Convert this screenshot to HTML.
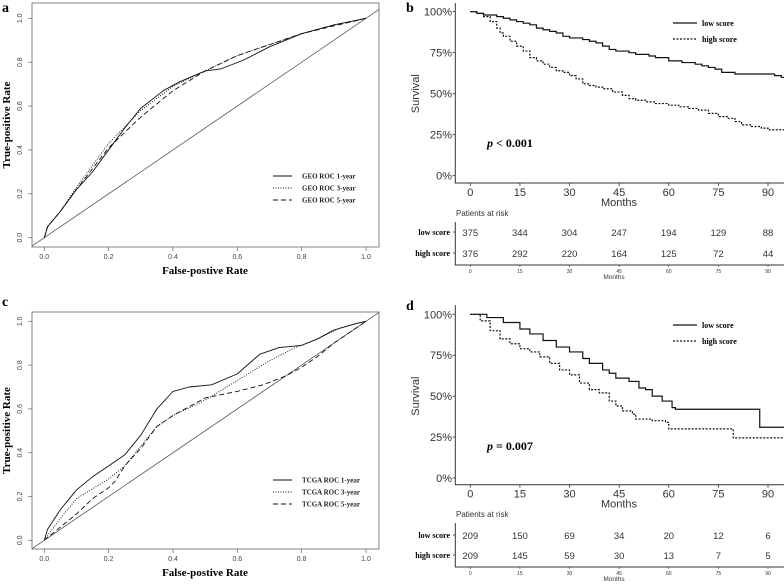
<!DOCTYPE html>
<html><head><meta charset="utf-8"><style>
body{margin:0;background:#fff}
svg{display:block}
.ser{font-family:"Liberation Serif",serif}
.san{font-family:"Liberation Sans",sans-serif}
</style></head><body>
<svg id="fig" width="784" height="584" viewBox="0 0 784 584" xmlns="http://www.w3.org/2000/svg">
<text x="2" y="12" class="ser" font-weight="bold" font-size="14">a</text>
<text x="406" y="12" class="ser" font-weight="bold" font-size="14">b</text>
<text x="2" y="306" class="ser" font-weight="bold" font-size="14">c</text>
<text x="406" y="310" class="ser" font-weight="bold" font-size="14">d</text>
</svg>
<script>
// ROC data (FPR, TPR)
const rocTicks=[0,0.2,0.4,0.6,0.8,1.0];
const geoFpr1=[0,0.01,0.05,0.1,0.15,0.2,0.25,0.3,0.37,0.42,0.5,0.55,0.62,0.7,0.8,0.9,1];
const geoTpr1=[0,0.05,0.12,0.22,0.3,0.4,0.5,0.59,0.67,0.71,0.76,0.77,0.81,0.87,0.93,0.97,1];
const geoFpr3=[0,0.01,0.05,0.1,0.2,0.3,0.4,0.5,0.6,0.7,0.8,0.9,1];
const geoTpr3=[0,0.05,0.12,0.23,0.43,0.58,0.69,0.76,0.83,0.88,0.93,0.97,1];
const geoFpr5=[0,0.01,0.05,0.1,0.2,0.3,0.4,0.5,0.6,0.7,0.8,0.9,1];
const geoTpr5=[0,0.05,0.12,0.22,0.41,0.55,0.67,0.76,0.83,0.88,0.93,0.965,1];
const tcgaFpr1=[0,0.01,0.05,0.1,0.15,0.2,0.25,0.3,0.35,0.4,0.45,0.52,0.6,0.67,0.73,0.8,0.85,0.9,0.97,1];
const tcgaTpr1=[0,0.05,0.14,0.23,0.29,0.34,0.39,0.48,0.6,0.68,0.7,0.71,0.76,0.85,0.88,0.89,0.92,0.96,0.99,1];
const tcgaFpr3=[0,0.05,0.1,0.2,0.25,0.3,0.35,0.4,0.5,0.6,0.7,0.78,0.85,0.92,1];
const tcgaTpr3=[0,0.1,0.19,0.28,0.34,0.43,0.52,0.57,0.64,0.73,0.82,0.88,0.92,0.97,1];
const tcgaFpr5=[0,0.05,0.1,0.15,0.2,0.22,0.25,0.3,0.35,0.4,0.5,0.6,0.68,0.75,0.8,0.85,0.9,0.95,1];
const tcgaTpr5=[0,0.06,0.12,0.19,0.24,0.27,0.34,0.42,0.52,0.57,0.65,0.68,0.71,0.75,0.79,0.84,0.9,0.95,1];
// KM data (months, survival %)
const kmTicks=[0,15,30,45,60,75,90];
const kmYTicks=[0,25,50,75,100];
const bLowT=[0,2,4,6,8,10,12,14,16,18,20,22,24,26,28,30,32,34,36,38,40,42,44,46,48,50,52,54,56,58,60,62,64,66,68,70,72,74,76,78,80,82,84,86,88,90,92,94,95];
const bLowS=[100,99,98,98,97,96,95,94,93,92,90,89,88,87,85,84,84,83,82,81,79,77,76,76,75,74,74,73,72,72,70,70,69,69,68,67,66,65,63,63,62,62,62,62,62,62,61,60,59];
const bHighT=[0,2,4,6,8,9,10,12,14,16,18,20,22,24,26,28,30,32,34,36,38,40,43,46,48,50,53,56,60,63,66,69,72,75,78,80,82,85,88,90,93,95];
const bHighS=[100,99,97,94,90,87,85,82,79,76,72,70,68,66,64,63,61,59,56,55,54,53,51,49,47,46,45,44,43,42,41,40,38,36,35,33,31,30,29,28,28,27];
const dLowT=[0,5,10,15,18,22,26,30,34,36,40,42,44,48,51,53,55,58,61,62,87.5,95];
const dLowS=[100,98,95,91,88,84,80,77,73,70,66,64,61,59,55,54,50,47,43,42,31,31];
const dHighT=[0,3,6,9,12,15,18,21,24,27,30,33,36,39,42,44,46,49,50,55,59,60,79.5,95];
const dHighS=[100,96,90,85,82,79,77,74,70,66,63,58,54,52,47,44,41,39,36,35,34,30,24.5,24.5];
const riskBLow=[375,344,304,247,194,129,88];
const riskBHigh=[376,292,220,164,125,72,44];
const riskDLow=[209,150,69,34,20,12,6];
const riskDHigh=[209,145,59,30,13,7,5];

const svg=document.getElementById('fig');
const NS='http://www.w3.org/2000/svg';
function mk(tag,attrs,parent){const e=document.createElementNS(NS,tag);for(const k in attrs)e.setAttribute(k,attrs[k]);(parent||svg).appendChild(e);return e;}
function txt(x,y,s,attrs){const e=mk('text',Object.assign({x:x,y:y},attrs));e.textContent=s;return e;}

function roc(oy,box,y1,y0,series,legendY,names,prefix){
  const x0p=44.3,x1p=366;
  const sx=v=>x0p+v*(x1p-x0p), sy=v=>y0+v*(y1-y0);
  const r=mk('rect',{x:32,y:box[0],width:347,height:box[1]-box[0],fill:'none',stroke:'#666','stroke-width':0.8});
  
  
  const diag=mk('line',{x1:32,y1:sy(-(x0p-32)/(x1p-x0p)),x2:379,y2:sy((379-x0p)/(x1p-x0p)),stroke:'#555','stroke-width':0.8});
  
  
  rocTicks.forEach(t=>{
    mk('line',{x1:sx(t),x2:sx(t),y1:box[1],y2:box[1]+4,stroke:'#666','stroke-width':0.7});
    const a=txt(sx(t),box[1]+12,t.toFixed(1),{'text-anchor':'middle','font-size':7,class:'san',fill:'#444'});
    
    
    mk('line',{x1:28,x2:32,y1:sy(t),y2:sy(t),stroke:'#666','stroke-width':0.7});
    const b=txt(0,0,t.toFixed(1),{'text-anchor':'middle','font-size':7,class:'san',fill:'#444',transform:`translate(22,${sy(t)}) rotate(-90)`});
    
    
  });
  const xt=txt(205,box[1]+27,'False-postive Rate',{'text-anchor':'middle','font-size':11,'font-weight':'bold',class:'ser'});
  
  
  const yt=txt(0,0,'True-positive Rate',{'text-anchor':'middle','font-size':11,'font-weight':'bold',class:'ser',transform:`translate(10,${(box[0]+box[1])/2}) rotate(-90)`});
  
  
  const dashes=['none','1,1.5','5,3'];
  series.forEach((s,i)=>{
    const pts=s[0].map((v,j)=>sx(v)+','+sy(s[1][j])).join(' ');
    const p=mk('polyline',{points:pts,fill:'none',stroke:'#111','stroke-width':0.9,'stroke-dasharray':dashes[i],'stroke-linejoin':'round'});
    
    
    const ly=legendY+i*12;
    const l=mk('line',{x1:273,x2:292,y1:ly,y2:ly,stroke:'#111','stroke-width':0.9,'stroke-dasharray':dashes[i]});
    
    
    const lt=txt(302,ly+2.5,names[i],{'font-size':7,class:'ser','font-weight':'bold',fill:'#222'});
    
    
  });
  oy;
}
roc(0,[3,247],18.3,237.7,[[geoFpr1,geoTpr1],[geoFpr3,geoTpr3],[geoFpr5,geoTpr5]],176,['GEO ROC 1-year','GEO ROC 3-year','GEO ROC 5-year'],'roc-geo');
roc(292,[312,549],321.3,540.3,[[tcgaFpr1,tcgaTpr1],[tcgaFpr3,tcgaTpr3],[tcgaFpr5,tcgaTpr5]],480,['TCGA ROC 1-year','TCGA ROC 3-year','TCGA ROC 5-year'],'roc-tcga');

function km(c,prefix){
  const sx=v=>470.3+v*(768-470.3)/90, sy=v=>c.y0+v/100*(c.y100-c.y0);
  const ax=mk('path',{d:`M455.3,${c.top} V${c.axisY} H784`,fill:'none',stroke:'#333','stroke-width':1});
  
  
  kmYTicks.forEach(t=>{
    mk('line',{x1:452.5,x2:455.3,y1:sy(t),y2:sy(t),stroke:'#333','stroke-width':0.8});
    const a=txt(452,sy(t)+4,t+'%',{'text-anchor':'end','font-size':11,class:'san',fill:'#333'});
    
    
  });
  kmTicks.forEach(t=>{
    mk('line',{x1:sx(t),x2:sx(t),y1:c.axisY,y2:c.axisY+3,stroke:'#333','stroke-width':0.8});
    const a=txt(sx(t),c.axisY+13,String(t),{'text-anchor':'middle','font-size':11,class:'san',fill:'#333'});
    
    
  });
  const mt=txt(619,c.axisY+23,'Months',{'text-anchor':'middle','font-size':11,class:'san',fill:'#333'});
  
  
  const st=txt(0,0,'Survival',{'text-anchor':'middle','font-size':11,class:'san',fill:'#333',transform:`translate(419,${(c.y0+c.y100)/2}) rotate(-90)`});
  
  
  [[c.lowT,c.lowS,'none','low-score'],[c.highT,c.highS,'2,1.5','high-score']].forEach((s,i)=>{
    let d='M'+sx(s[0][0])+','+sy(s[1][0]);
    for(let j=1;j<s[0].length;j++){d+=' H'+sx(s[0][j])+' V'+sy(s[1][j]);}
    const p=mk('path',{d:d,fill:'none',stroke:'#111','stroke-width':1.2,'stroke-dasharray':s[2]});
    
    
    const ly=c.legY+i*16;
    const l=mk('line',{x1:673,x2:697,y1:ly,y2:ly,stroke:'#111','stroke-width':1.2,'stroke-dasharray':s[2]});
    
    
    const lt=txt(702,ly+3,i===0?'low score':'high score',{'font-size':8,class:'ser','font-weight':'bold'});
    
    
  });
  const pv=mk('text',{x:487,y:c.pY,'font-size':12,class:'ser','font-weight':'bold'});
  pv.innerHTML='<tspan font-style="italic">p</tspan> '+c.pTxt;
  
  
  const pr=txt(456,c.rTop,'Patients at risk',{'font-size':8,class:'san',fill:'#333'});
  
  
  const rax=mk('path',{d:`M455.3,${c.rTop+6} V${c.rAxis} H784`,fill:'none',stroke:'#333','stroke-width':1});
  
  
  [[c.rLow,'low score',c.r1],[c.rHigh,'high score',c.r2]].forEach(r=>{
    const lb=txt(450,r[2]+3,r[1],{'text-anchor':'end','font-size':8,class:'ser','font-weight':'bold'});
    
    
    mk('line',{x1:453,x2:455.3,y1:r[2],y2:r[2],stroke:'#333','stroke-width':0.8});
    r[0].forEach((v,j)=>{
      const t=txt(sx(kmTicks[j]),r[2]+4,String(v),{'text-anchor':'middle','font-size':9.5,class:'san',fill:'#333'});
      
      
    });
  });
  kmTicks.forEach(t=>{
    mk('line',{x1:sx(t),x2:sx(t),y1:c.rAxis,y2:c.rAxis+2,stroke:'#333','stroke-width':0.6});
    const a=txt(sx(t),c.rAxis+8,String(t),{'text-anchor':'middle','font-size':5,class:'san',fill:'#333'});
    
    
  });
  const rm=txt(614,c.rAxis+14,'Months',{'text-anchor':'middle','font-size':6.5,class:'san',fill:'#333'});
  
  
}
km({top:3,axisY:183,y0:175.7,y100:11.7,lowT:bLowT,lowS:bLowS,highT:bHighT,highS:bHighS,legY:23,pY:147,pTxt:'< 0.001',rTop:216,r1:232,r2:253,rAxis:265,rLow:riskBLow,rHigh:riskBHigh},'km-geo');
km({top:305,axisY:484.7,y0:478,y100:314.3,lowT:dLowT,lowS:dLowS,highT:dHighT,highS:dHighS,legY:325,pY:450,pTxt:'= 0.007',rTop:517,r1:535,r2:555,rAxis:567,rLow:riskDLow,rHigh:riskDHigh},'km-tcga');
</script>
</body></html>
